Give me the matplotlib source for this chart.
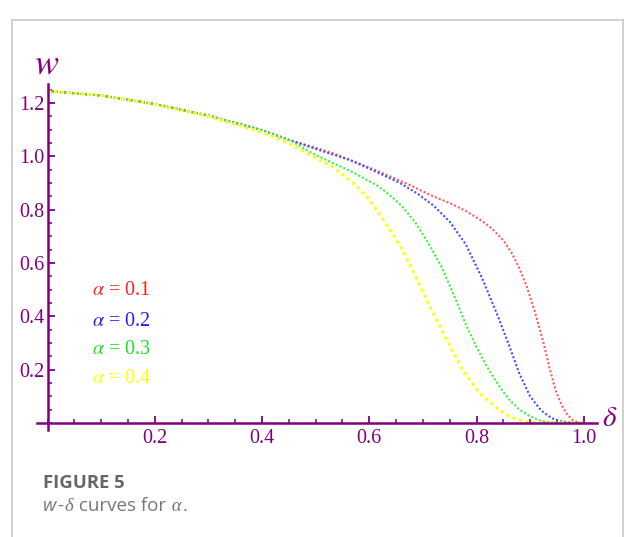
import matplotlib
matplotlib.use("Agg")
import matplotlib.pyplot as plt
from matplotlib.lines import Line2D
from matplotlib.ticker import MultipleLocator, FixedLocator

# =========================
# DATA
# =========================
head_d = [0.0, 0.1, 0.2, 0.3, 0.4, 0.45]
head_w = [1.245, 1.228, 1.196, 1.153, 1.098, 1.062]

d_01 = head_d + [0.50, 0.532, 0.575, 0.625, 0.675, 0.719, 0.75, 0.78, 0.81,
                 0.83, 0.85, 0.865, 0.88, 0.894, 0.91, 0.925, 0.937, 0.948,
                 0.958, 0.968, 0.98, 0.99, 1.0]
w_01 = head_w + [1.032, 1.012, 0.978, 0.937, 0.893, 0.850, 0.825, 0.795, 0.758,
                 0.727, 0.685, 0.640, 0.580, 0.510, 0.410, 0.300, 0.200, 0.120,
                 0.070, 0.035, 0.010, 0.002, 0.0]

d_02 = head_d + [0.50, 0.564, 0.61, 0.657, 0.69, 0.72, 0.75, 0.78, 0.81, 0.84,
                 0.86, 0.88, 0.90, 0.92, 0.94, 0.96, 0.98, 1.0]
w_02 = head_w + [1.028, 0.986, 0.945, 0.900, 0.860, 0.815, 0.755, 0.670, 0.545,
                 0.400, 0.295, 0.185, 0.100, 0.048, 0.018, 0.005, 0.001, 0.0]

d_03 = head_d + [0.50, 0.532, 0.565, 0.596, 0.615, 0.63, 0.645, 0.66, 0.685,
                 0.71, 0.735, 0.76, 0.78, 0.80, 0.82, 0.84, 0.86, 0.88, 0.90,
                 0.92, 0.94, 1.0]
w_03 = head_w + [1.005, 0.975, 0.945, 0.911, 0.890, 0.868, 0.843, 0.815, 0.755,
                 0.675, 0.585, 0.470, 0.370, 0.285, 0.210, 0.145, 0.090, 0.050,
                 0.025, 0.008, 0.002, 0.0]

d_04 = [0.0, 0.1, 0.2, 0.3, 0.4, 0.44, 0.470, 0.508, 0.53, 0.564, 0.58, 0.601,
        0.629, 0.657, 0.681, 0.713, 0.745, 0.774, 0.806, 0.838, 0.856, 0.875,
        0.894, 0.92, 1.0]
w_04 = [1.245, 1.228, 1.195, 1.150, 1.090, 1.058, 1.027, 0.986, 0.962, 0.911,
        0.880, 0.836, 0.754, 0.667, 0.574, 0.435, 0.311, 0.199, 0.112, 0.056,
        0.030, 0.013, 0.004, 0.001, 0.0]

labels = ["0.1", "0.2", "0.3", "0.4"]
x_ticks = [0.2, 0.4, 0.6, 0.8, 1.0]
y_ticks = [0.2, 0.4, 0.6, 0.8, 1.0, 1.2]

# =========================
# STYLE
# =========================
plt.rcParams["mathtext.fontset"] = "stix"
purple = "#800080"
line_colors = ["#ff5a5a", "#4b4bff", "#3cf03c", "#ffff00"]
text_colors = ["#ff2020", "#2020ff", "#20e020", "#ffff00"]

fig = plt.figure(figsize=(6.24, 5.37), dpi=100)
ax = fig.add_axes([0.059, 0.1989, 0.898, 0.6441])

# =========================
# CURVES
# =========================
series = [(d_01, w_01), (d_02, w_02), (d_03, w_03), (d_04, w_04)]
for i, (d, w) in enumerate(series):
    if i == 3:
        ax.plot(d, w, color=line_colors[i], linewidth=2.2,
                linestyle=(0, (1, 1.2)))
    else:
        ax.plot(d, w, color=line_colors[i], linewidth=1.5,
                linestyle=(0, (1, 1)))

# legend-like labels
label_y = [0.495, 0.382, 0.277, 0.165]
for i, lab in enumerate(labels):
    ax.text(0.083, label_y[i], r"$\alpha$ = " + lab, color=text_colors[i],
            fontsize=14.5, fontfamily="Liberation Serif",
            va="center", ha="left")

# =========================
# AXES (Mathematica look)
# =========================
ax.set_xlim(-0.02, 1.025)
ax.set_ylim(-0.027, 1.27)
ax.spines["top"].set_visible(False)
ax.spines["right"].set_visible(False)
ax.spines["left"].set_position(("data", 0))
ax.spines["bottom"].set_position(("data", 0))
for s in ["left", "bottom"]:
    ax.spines[s].set_color(purple)
    ax.spines[s].set_linewidth(1.8)

ax.xaxis.set_major_locator(FixedLocator(x_ticks))
ax.yaxis.set_major_locator(FixedLocator(y_ticks))
ax.xaxis.set_minor_locator(MultipleLocator(0.05))
ax.yaxis.set_minor_locator(MultipleLocator(0.05))
ax.set_xticklabels(["%.1f" % v for v in x_ticks])
ax.set_yticklabels(["%.1f" % v for v in y_ticks])
ax.tick_params(which="major", direction="in", length=5, width=1.3,
               color=purple, labelcolor=purple, labelsize=14.5, pad=4)
ax.tick_params(which="minor", direction="in", length=3, width=1.1,
               color=purple)
ax.tick_params(axis="y", which="major", pad=2)
for t in ax.get_xticklabels() + ax.get_yticklabels():
    t.set_fontfamily("Liberation Serif")

fig.text(47 / 624, 1 - 63 / 537, r"$w$", color=purple, fontsize=26,
         ha="center", va="center")
fig.text(610 / 624, 1 - 418 / 537, r"$\delta$", color=purple, fontsize=21,
         ha="center", va="center")

# =========================
# FRAME + CAPTION
# =========================
fx0, fx1, fy = 12 / 624, 623 / 624, 1 - 20 / 537
frame = "#c8c8c8"
fig.add_artist(Line2D([fx0, fx0], [-0.01, fy], color=frame, lw=1.2))
fig.add_artist(Line2D([fx0, fx1], [fy, fy], color=frame, lw=1.2))
fig.add_artist(Line2D([fx1, fx1], [-0.01, fy], color=frame, lw=1.2))

fig.text(43 / 624, 1 - 488 / 537, "FIGURE 5", fontfamily="Open Sans",
         fontweight="bold", fontsize=13.3, color="#666666", va="baseline")

fig.canvas.draw()
renderer = fig.canvas.get_renderer()
pieces = [("w", "Open Sans", "italic"), ("-", "Open Sans", "normal"),
          ("δ", "Liberation Serif", "italic"),
          (" curves for", "Open Sans", "normal"),
          (" α", "Liberation Serif", "italic"), (".", "Open Sans", "normal")]
xpos = 43
for txt, fam, sty in pieces:
    t = fig.text(xpos / 624, 1 - 511 / 537, txt, fontfamily=fam, fontstyle=sty,
                 fontsize=13.5, color="#777777", va="baseline")
    bb = t.get_window_extent(renderer)
    xpos = bb.x1 + 1

fig.savefig("out.png", dpi=100)
